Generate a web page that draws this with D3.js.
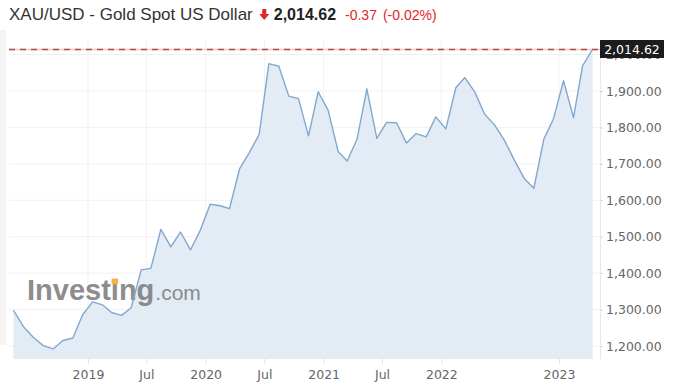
<!DOCTYPE html>
<html>
<head>
<meta charset="utf-8">
<script src="https://cdn.jsdelivr.net/npm/d3@7/dist/d3.min.js"></script>
<style>
html,body{margin:0;padding:0;background:#fff;}
svg{display:block;}
</style>
</head>
<body>
<svg id="chart" width="680" height="386"></svg>
<script>
// ---- data ----
const startMonth = "2018-05";
const prices = [
  1298, 1253, 1224, 1201, 1192, 1215, 1222, 1285,
  1321, 1313, 1292, 1284, 1305, 1409, 1413, 1520, 1472, 1513, 1464, 1517,
  1589, 1585, 1577, 1686, 1730, 1781, 1975, 1968, 1886, 1879, 1777, 1898,
  1847, 1734, 1708, 1769, 1906, 1770, 1814, 1813, 1757, 1783, 1774, 1829,
  1796, 1909, 1937, 1897, 1837, 1807, 1766, 1711, 1660, 1633, 1768, 1824,
  1928, 1827, 1969, 2014.62
];
const lastPrice = 2014.62;
const change = "-0.37";
const changePct = "(-0.02%)";
const titleText = "XAU/USD - Gold Spot US Dollar";
const yTicks = [1200, 1300, 1400, 1500, 1600, 1700, 1800, 1900, 2000];
const xTickDates = ["2019-01", "2019-07", "2020-01", "2020-07", "2021-01", "2021-07", "2022-01", "2023-01"];
const xTickLabels = ["2019", "Jul", "2020", "Jul", "2021", "Jul", "2022", "2023"];

// ---- setup ----
const svg = d3.select("#chart");
const parseMonth = d3.utcParse("%Y-%m");
const start = parseMonth(startMonth);
const data = prices.map((v, i) => ({
  date: d3.utcDay.offset(d3.utcMonth.offset(start, i), 14),
  v
}));

const plotLeft = 9, plotRight = 600, plotTop = 40, plotBottom = 359;

const x = d3.scaleUtc()
  .domain([parseMonth("2019-01"), parseMonth("2023-01")])
  .range([88, 559]);
const y = d3.scaleLinear().domain([1200, 1900]).range([346, 91]);

// page background strips
svg.append("rect").attr("x", 0).attr("y", 0).attr("width", 680).attr("height", 386).attr("fill", "#fff");
svg.append("rect").attr("x", 0).attr("y", 30).attr("width", 6).attr("height", 315).attr("fill", "#f4f4f4");

// gridlines
const grid = svg.append("g");
grid.selectAll("line.h").data(yTicks.filter(t => y(t) < plotBottom && y(t) > plotTop))
  .join("line")
  .attr("x1", plotLeft).attr("x2", plotRight)
  .attr("y1", d => y(d)).attr("y2", d => y(d))
  .attr("stroke", "#f1f1f1").attr("stroke-width", 1);
grid.selectAll("line.v").data(xTickDates.map(parseMonth))
  .join("line")
  .attr("x1", d => x(d)).attr("x2", d => x(d))
  .attr("y1", plotTop).attr("y2", plotBottom)
  .attr("stroke", "#f1f1f1").attr("stroke-width", 1);

// right border
svg.append("line").attr("x1", plotRight + 0.5).attr("x2", plotRight + 0.5)
  .attr("y1", plotTop).attr("y2", plotBottom)
  .attr("stroke", "#e8e8e8");

// area
const area = d3.area().x(d => x(d.date)).y0(plotBottom).y1(d => y(d.v));
svg.append("path").datum(data).attr("d", area).attr("fill", "#e3ebf5");

// logo
const logo = svg.append("g").attr("opacity", 0.85);
const logoText = logo.append("text")
  .attr("x", 27).attr("y", 300)
  .attr("font-family", "Liberation Sans, Arial, sans-serif")
  .attr("font-weight", "bold").attr("font-size", 29)
  .attr("fill", "#7a7a7a");
logoText.append("tspan").text("Invest");
logoText.append("tspan").text("\u0131");
logoText.append("tspan").text("ng");
const node = logoText.node();
const iStart = node.getSubStringLength(0, 6);
const iW = node.getSubStringLength(6, 1);
const fullW = node.getComputedTextLength();
logo.append("rect")
  .attr("x", 27 + iStart + iW / 2 - 3.3).attr("y", 278.5)
  .attr("width", 6.6).attr("height", 5.8).attr("rx", 1.2)
  .attr("fill", "#f5a623");
logo.append("text")
  .attr("x", 27 + fullW + 1).attr("y", 300)
  .attr("font-family", "Liberation Sans, Arial, sans-serif")
  .attr("font-size", 21)
  .attr("fill", "#7a7a7a")
  .text(".com");

// line
const line = d3.line().x(d => x(d.date)).y(d => y(d.v));
svg.append("path").datum(data).attr("d", line)
  .attr("fill", "none").attr("stroke", "#82a8ce").attr("stroke-width", 1.4)
  .attr("stroke-linejoin", "round");

// price line
const py = Math.round(y(lastPrice)) + 0.5;
svg.append("line").attr("x1", plotLeft).attr("x2", plotRight).attr("y1", py).attr("y2", py)
  .attr("stroke", "#f3c4c2").attr("stroke-width", 1.3);
svg.append("line").attr("x1", plotLeft).attr("x2", plotRight).attr("y1", py).attr("y2", py)
  .attr("stroke", "#a9504c").attr("stroke-width", 1.3).attr("stroke-dasharray", "6,5");

// right axis
const yAxis = d3.axisRight(y).tickValues(yTicks).tickFormat(d3.format(",.2f")).tickSize(3).tickPadding(3);
const gy = svg.append("g").attr("transform", `translate(${plotRight},0)`).call(yAxis);
gy.select(".domain").remove();
gy.selectAll(".tick line").attr("stroke", "#d8d8d8");
gy.selectAll(".tick text")
  .attr("font-family", "DejaVu Sans, Verdana, sans-serif")
  .attr("font-size", 12.5).attr("fill", "#666");

// bottom axis
const xAxis = d3.axisBottom(x).tickValues(xTickDates.map(parseMonth))
  .tickFormat((d, i) => xTickLabels[i]).tickSize(5).tickPadding(6);
const gx = svg.append("g").attr("transform", `translate(0,${plotBottom})`).call(xAxis);
gx.select(".domain").remove();
gx.selectAll(".tick line").attr("stroke", "#e4e4e4");
gx.selectAll(".tick text")
  .attr("font-family", "DejaVu Sans, Verdana, sans-serif")
  .attr("font-size", 12.5).attr("fill", "#666");

// last price box
svg.append("rect").attr("x", plotRight).attr("y", py - 9.5).attr("width", 64).attr("height", 18)
  .attr("fill", "#1c1c1c");
svg.append("text").attr("x", plotRight + 32).attr("y", py + 4.5)
  .attr("text-anchor", "middle")
  .attr("font-family", "DejaVu Sans, Verdana, sans-serif")
  .attr("font-size", 12.5).attr("fill", "#fff")
  .text(d3.format(",.2f")(lastPrice));

// title
const title = svg.append("text").attr("x", 9).attr("y", 20)
  .attr("font-family", "Liberation Sans, Arial, sans-serif")
  .attr("font-size", 17).attr("fill", "#333")
  .text(titleText);
const tw = title.node().getComputedTextLength();
const ax = 9 + tw + 7;
// red down arrow
svg.append("path")
  .attr("d", `M${ax + 2.5},9 h4 v5 h3 l-5,6 l-5,-6 h3 z`)
  .attr("fill", "#e0262b");
const price = svg.append("text").attr("x", ax + 14).attr("y", 20)
  .attr("font-family", "Liberation Sans, Arial, sans-serif")
  .attr("font-size", 16).attr("font-weight", "bold").attr("fill", "#222")
  .text(d3.format(",.2f")(lastPrice));
const pw = price.node().getComputedTextLength();
const ch = svg.append("text").attr("x", ax + 14 + pw + 9).attr("y", 20)
  .attr("font-family", "Liberation Sans, Arial, sans-serif")
  .attr("font-size", 14).attr("fill", "#e0262b")
  .text(change);
const cw = ch.node().getComputedTextLength();
svg.append("text").attr("x", ax + 14 + pw + 9 + cw + 6).attr("y", 20)
  .attr("font-family", "Liberation Sans, Arial, sans-serif")
  .attr("font-size", 14).attr("fill", "#e0262b")
  .text(changePct);
</script>
</body>
</html>
